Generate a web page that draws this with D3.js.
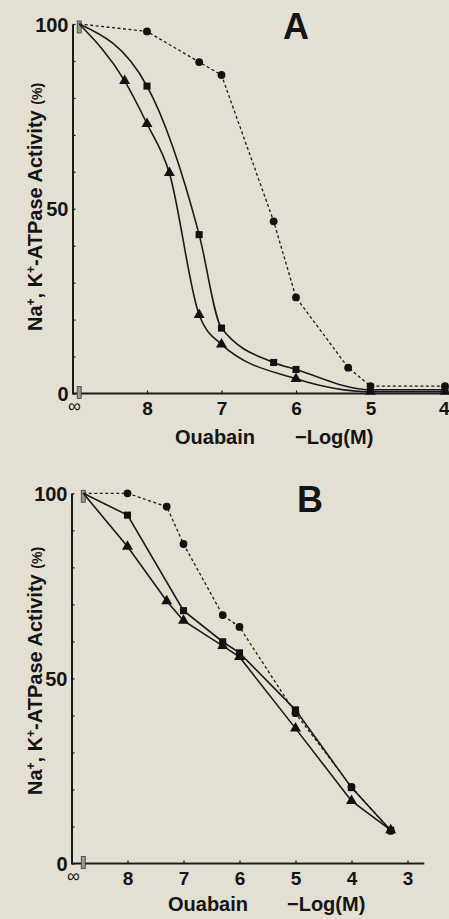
<!DOCTYPE html>
<html>
<head>
<meta charset="utf-8">
<script src="https://cdn.jsdelivr.net/npm/d3@7"></script>
<style>
    body { margin: 0; background: #e4dfd3; }
    text { font-family: "Liberation Sans", Arial, sans-serif; font-weight: bold; fill: #141414; }
</style>
</head>
<body>
<div id="canvas"></div>
<script>
"use strict"

/* values: [ -log(M) of ouabain , activity in % ]  (Infinity = no ouabain) */
let circlesA = [[Infinity, 100], [8, 98], [7.3, 89.7], [7, 86.2], [6.3, 46.6], [6, 26], [5.3, 7], [5, 2], [4, 2]];
let squaresA = [[Infinity, 100], [8, 83.2], [7.3, 43], [7, 17.7], [6.3, 8.4], [6, 6.5], [5, 1], [4, 1]];
let trianglesA = [[Infinity, 100], [8.3, 84.6], [8, 73], [7.7, 59.7], [7.3, 21.3], [7, 13.3], [6, 4], [5, 0.5], [4, 0.5]];

let circlesB = [[Infinity, 100], [8, 100], [7.3, 96.4], [7, 86.3], [6.3, 67.1], [6, 63.9], [5, 40.6], [4, 20.7], [3.3, 8.8]];
let squaresB = [[Infinity, 100], [8, 94.1], [7, 68.3], [6.3, 59.9], [6, 56.9], [5, 41.5], [4, 20.5], [3.3, 9]];
let trianglesB = [[Infinity, 100], [8, 85.6], [7.3, 70.9], [7, 65.6], [6.3, 58.8], [6, 55.8], [5, 36.5], [4, 16.9], [3.3, 9]];

let xTicksA = [8, 7, 6, 5, 4];
let xTicksB = [8, 7, 6, 5, 4, 3];
let yTicks = [0, 10, 20, 30, 40, 50, 60, 70, 80, 90, 100];
let yLabelled = [0, 50, 100];
let infLabel = "\u221e";
let xTitle = ["Ouabain", "\u2212Log(M)"];

/* set up the drawing canvas */
let drawing = d3.select("#canvas")
    .append("svg")
    .attr("width", 449)
    .attr("height", 919);

let panels = [
    {
        letter: "A", letterX: 296, letterY: 39,
        circles: circlesA, squares: squaresA, triangles: trianglesA, xTicks: xTicksA,
        x: d3.scaleLinear().domain([9, 4]).range([72.5, 445]),
        y: d3.scaleLinear().domain([0, 100]).range([393.5, 24]),
        infAt: 8.91, axisEnd: 3.94, curve: d3.curveMonotoneX,
        titleY: 207, xTitleY: 444, xTitleX: [175, 295]
    },
    {
        letter: "B", letterX: 310, letterY: 512,
        circles: circlesB, squares: squaresB, triangles: trianglesB, xTicks: xTicksB,
        x: d3.scaleLinear().domain([9, 3]).range([71.5, 407.5]),
        y: d3.scaleLinear().domain([0, 100]).range([863.5, 493.3]),
        infAt: 8.79, axisEnd: 2.7, curve: d3.curveLinear,
        titleY: 671, xTitleY: 911, xTitleX: [168, 287]
    }
];

panels.forEach(drawPanel);

function drawPanel(p) {
    let g = drawing.append("g");
    let px = d => p.x(d[0] === Infinity ? p.infAt : d[0]); /// infinity sits just right of the y axis
    let py = d => p.y(d[1]);

    /* y axis, ticks point inward */
    let yAxis = g.append("g")
        .attr("transform", "translate(" + p.x(9) + ",0)")
        .call(d3.axisLeft(p.y).tickValues(yTicks).tickSizeInner(-3).tickSizeOuter(0).tickPadding(4)
            .tickFormat(d => yLabelled.includes(d) ? d : ""));
    yAxis.select(".domain").attr("stroke", "#1a1a1a").attr("stroke-width", 2);
    yAxis.selectAll(".tick line").attr("stroke", "#1a1a1a").attr("stroke-width", 1.2);
    yAxis.selectAll(".tick text").style("font-size", "20px").attr("dy", "0.36em").attr("fill", "#141414");

    /* x axis */
    let xAxis = g.append("g")
        .attr("transform", "translate(0," + p.y(0) + ")")
        .call(d3.axisBottom(p.x).tickValues(p.xTicks).tickSizeInner(-3).tickSizeOuter(0).tickPadding(8)
            .tickFormat(d3.format("d")));
    xAxis.select(".domain").remove();
    xAxis.selectAll(".tick line").attr("stroke", "#1a1a1a").attr("stroke-width", 1.2);
    xAxis.selectAll(".tick text").style("font-size", "19px").attr("fill", "#141414");
    /// the last label of panel A touches the page edge
    xAxis.selectAll(".tick text")
        .filter(d => p.x(d) + 6 > 449)
        .attr("text-anchor", "end")
        .attr("x", 449 - p.x(p.xTicks[p.xTicks.length - 1]));

    g.append("line")
        .attr("x1", p.x(9))
        .attr("x2", p.x(p.axisEnd))
        .attr("y1", p.y(0))
        .attr("y2", p.y(0))
        .attr("stroke", "#1a1a1a")
        .attr("stroke-width", 2);

    g.append("text")
        .attr("x", p.x(9) + 2)
        .attr("y", p.y(0) + 18)
        .attr("text-anchor", "middle")
        .style("font-size", "18px")
        .style("font-weight", "normal")
        .text(infLabel);

    /* small grey blocks marking the no-ouabain point */
    [100, 0].forEach(v => {
        g.append("rect")
            .attr("x", p.x(p.infAt) - 2)
            .attr("y", p.y(v) - 6 + (v === 100 ? 3 : -1))
            .attr("width", 4)
            .attr("height", 12)
            .attr("fill", "#9a9893")
            .attr("stroke", "#3a3a3a")
            .attr("stroke-width", 0.8);
    });

    /* lines */
    let solid = d3.line().x(px).y(py).curve(p.curve);
    let dashed = d3.line().x(px).y(py);

    g.append("path")
        .attr("d", dashed(p.circles))
        .attr("fill", "none")
        .attr("stroke", "#1a1a1a")
        .attr("stroke-width", 1.3)
        .attr("stroke-dasharray", "3,2.5");

    [p.squares, p.triangles].forEach(s => {
        g.append("path")
            .attr("d", solid(s))
            .attr("fill", "none")
            .attr("stroke", "#1a1a1a")
            .attr("stroke-width", 1.6);
    });

    /* markers (the infinity point has none) */
    let marks = [
        [p.circles, d3.symbolCircle, 48],
        [p.squares, d3.symbolSquare, 50],
        [p.triangles, d3.symbolTriangle, 52]
    ];
    marks.forEach(m => {
        g.selectAll(null)
            .data(m[0].filter(d => d[0] !== Infinity))
            .join("path")
            .attr("transform", d => "translate(" + px(d) + "," + py(d) + ")")
            .attr("d", d3.symbol().type(m[1]).size(m[2]))
            .attr("fill", "#111");
    });

    /* titles */
    g.append("text")
        .attr("x", p.letterX)
        .attr("y", p.letterY)
        .attr("text-anchor", "middle")
        .style("font-size", "36px")
        .text(p.letter);

    g.append("text")
        .attr("x", p.xTitleX[0])
        .attr("y", p.xTitleY)
        .style("font-size", "20px")
        .text(xTitle[0]);
    g.append("text")
        .attr("x", p.xTitleX[1])
        .attr("y", p.xTitleY)
        .style("font-size", "20px")
        .text(xTitle[1]);

    let yt = g.append("text")
        .attr("transform", "translate(42," + p.titleY + ") rotate(-90)")
        .attr("text-anchor", "middle")
        .style("font-size", "20px");
    yt.append("tspan").text("Na");
    yt.append("tspan").attr("dy", -7).style("font-size", "12px").text("+");
    yt.append("tspan").attr("dy", 7).text(", K");
    yt.append("tspan").attr("dy", -7).style("font-size", "12px").text("+");
    yt.append("tspan").attr("dy", 7).text("-ATPase Activity ");
    yt.append("tspan").style("font-size", "14px").text("(%)");
}
</script>
</body>
</html>
